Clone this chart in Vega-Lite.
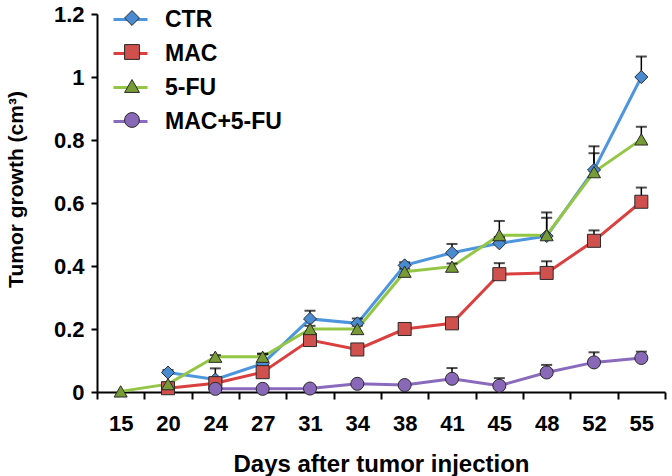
{
  "$schema": "https://vega.github.io/schema/vega-lite/v6.json",
  "width": 568,
  "height": 378,
  "autosize": {"type": "none"},
  "padding": {"left": 97, "top": 14, "right": 7, "bottom": 84},
  "background": "white",
  "config": {
    "font": "Liberation Sans",
    "view": {"stroke": null},
    "axis": {"labelFont": "Liberation Sans", "titleFont": "Liberation Sans", "labelFontWeight": "bold", "titleFontWeight": "bold", "labelColor": "black", "titleColor": "black", "domainColor": "black", "tickColor": "black", "domainWidth": 2, "tickWidth": 2, "grid": false},
    "legend": {"labelFont": "Liberation Sans", "labelFontWeight": "bold"}
  },
  "data": {"values": [
    {"day": 20, "series": "CTR", "value": 0.062, "err": 0.008},
    {"day": 24, "series": "CTR", "value": 0.04, "err": 0.035},
    {"day": 27, "series": "CTR", "value": 0.09, "err": 0.03},
    {"day": 31, "series": "CTR", "value": 0.232, "err": 0.026},
    {"day": 34, "series": "CTR", "value": 0.218, "err": 0.015},
    {"day": 38, "series": "CTR", "value": 0.402, "err": 0.01},
    {"day": 41, "series": "CTR", "value": 0.442, "err": 0.028},
    {"day": 45, "series": "CTR", "value": 0.472, "err": 0.02},
    {"day": 48, "series": "CTR", "value": 0.495, "err": 0.075},
    {"day": 52, "series": "CTR", "value": 0.705, "err": 0.075},
    {"day": 55, "series": "CTR", "value": 1.0, "err": 0.065},
    {"day": 20, "series": "MAC", "value": 0.012, "err": 0.005},
    {"day": 24, "series": "MAC", "value": 0.028, "err": 0.01},
    {"day": 27, "series": "MAC", "value": 0.063, "err": 0.01},
    {"day": 31, "series": "MAC", "value": 0.165, "err": 0.01},
    {"day": 34, "series": "MAC", "value": 0.135, "err": 0.008},
    {"day": 38, "series": "MAC", "value": 0.2, "err": 0.01},
    {"day": 41, "series": "MAC", "value": 0.218, "err": 0.01},
    {"day": 45, "series": "MAC", "value": 0.374, "err": 0.035},
    {"day": 48, "series": "MAC", "value": 0.378, "err": 0.037},
    {"day": 52, "series": "MAC", "value": 0.48, "err": 0.033},
    {"day": 55, "series": "MAC", "value": 0.604, "err": 0.045},
    {"day": 15, "series": "5-FU", "value": 0.002, "err": 0},
    {"day": 20, "series": "5-FU", "value": 0.025, "err": 0.005},
    {"day": 24, "series": "5-FU", "value": 0.112, "err": 0.005},
    {"day": 27, "series": "5-FU", "value": 0.112, "err": 0.01},
    {"day": 31, "series": "5-FU", "value": 0.2, "err": 0.01},
    {"day": 34, "series": "5-FU", "value": 0.2, "err": 0.01},
    {"day": 38, "series": "5-FU", "value": 0.382, "err": 0.01},
    {"day": 41, "series": "5-FU", "value": 0.398, "err": 0.01},
    {"day": 45, "series": "5-FU", "value": 0.498, "err": 0.045},
    {"day": 48, "series": "5-FU", "value": 0.498, "err": 0.055},
    {"day": 52, "series": "5-FU", "value": 0.698, "err": 0.06},
    {"day": 55, "series": "5-FU", "value": 0.802, "err": 0.04},
    {"day": 24, "series": "MAC+5-FU", "value": 0.01, "err": 0.004},
    {"day": 27, "series": "MAC+5-FU", "value": 0.01, "err": 0.004},
    {"day": 31, "series": "MAC+5-FU", "value": 0.011, "err": 0.004},
    {"day": 34, "series": "MAC+5-FU", "value": 0.026, "err": 0.005},
    {"day": 38, "series": "MAC+5-FU", "value": 0.022, "err": 0.005},
    {"day": 41, "series": "MAC+5-FU", "value": 0.042, "err": 0.034},
    {"day": 45, "series": "MAC+5-FU", "value": 0.02, "err": 0.024},
    {"day": 48, "series": "MAC+5-FU", "value": 0.062, "err": 0.024},
    {"day": 52, "series": "MAC+5-FU", "value": 0.094, "err": 0.032},
    {"day": 55, "series": "MAC+5-FU", "value": 0.108, "err": 0.02}
  ]},
  "encoding": {
    "x": {"field": "day", "type": "ordinal", "scale": {"type": "band", "paddingInner": 0, "paddingOuter": 0},
      "axis": {"title": "Days after tumor injection", "labelAngle": 0, "labelFontSize": 22, "titleFontSize": 24, "tickBand": "extent", "tickSize": 7, "labelPadding": 14, "titlePadding": 18}},
    "y": {"field": "value", "type": "quantitative", "scale": {"domain": [0, 1.2], "nice": false},
      "axis": {"title": "Tumor growth (cm³)", "titleY": 175, "values": [0, 0.2, 0.4, 0.6, 0.8, 1, 1.2], "format": ".1~f", "labelFontSize": 22, "titleFontSize": 21, "tickSize": 6, "labelPadding": 7, "titlePadding": 27}}
  },
  "layer": [
    {
      "mark": {"type": "line", "strokeWidth": 3},
      "encoding": {
        "stroke": {"field": "series", "type": "nominal", "sort": ["CTR", "MAC", "5-FU", "MAC+5-FU"],
          "scale": {"range": ["#4d96de", "#d9403f", "#94c646", "#8a6abc"]},
          "legend": {"title": null, "orient": "none", "legendX": 15, "legendY": -13, "symbolType": "stroke", "symbolSize": 1156, "symbolStrokeWidth": 3, "labelFontSize": 23, "labelColor": "black", "labelOffset": 16, "rowPadding": 3, "padding": 0}},
        "order": {"field": "day", "type": "quantitative"}
      }
    },
    {
      "transform": [{"filter": "datum.err > 0"}, {"calculate": "datum.value + datum.err", "as": "hi"}],
      "mark": {"type": "rule", "color": "black", "strokeWidth": 1.5},
      "encoding": {"y2": {"field": "hi"}}
    },
    {
      "transform": [{"filter": "datum.err > 0"}, {"calculate": "datum.value + datum.err", "as": "hi"}],
      "mark": {"type": "tick", "color": "black", "size": 11, "thickness": 2},
      "encoding": {"y": {"field": "hi", "type": "quantitative"}}
    },
    {
      "mark": {"type": "point", "filled": true, "size": 170, "stroke": "#2a2a2a", "strokeWidth": 1, "opacity": 1},
      "encoding": {
        "fill": {"field": "series", "type": "nominal",
          "scale": {"domain": ["CTR", "MAC", "5-FU", "MAC+5-FU"], "range": ["#4a8ad0", "#d0504d", "#779b35", "#8a68b8"]},
          "legend": {"title": null, "orient": "none", "legendX": 25, "legendY": -6, "symbolSize": 220, "symbolStrokeColor": "#2a2a2a", "symbolStrokeWidth": 1, "labelFontSize": 20, "labelExpr": "''", "rowPadding": 14, "padding": 0}},
        "shape": {"field": "series", "type": "nominal",
          "scale": {"domain": ["CTR", "MAC", "5-FU", "MAC+5-FU"], "range": ["diamond", "square", "triangle-up", "circle"]},
          "legend": {"title": null, "orient": "none", "legendX": 25, "legendY": -6, "symbolSize": 220, "labelFontSize": 20, "labelExpr": "''", "rowPadding": 14, "padding": 0}}
      }
    }
  ]
}
